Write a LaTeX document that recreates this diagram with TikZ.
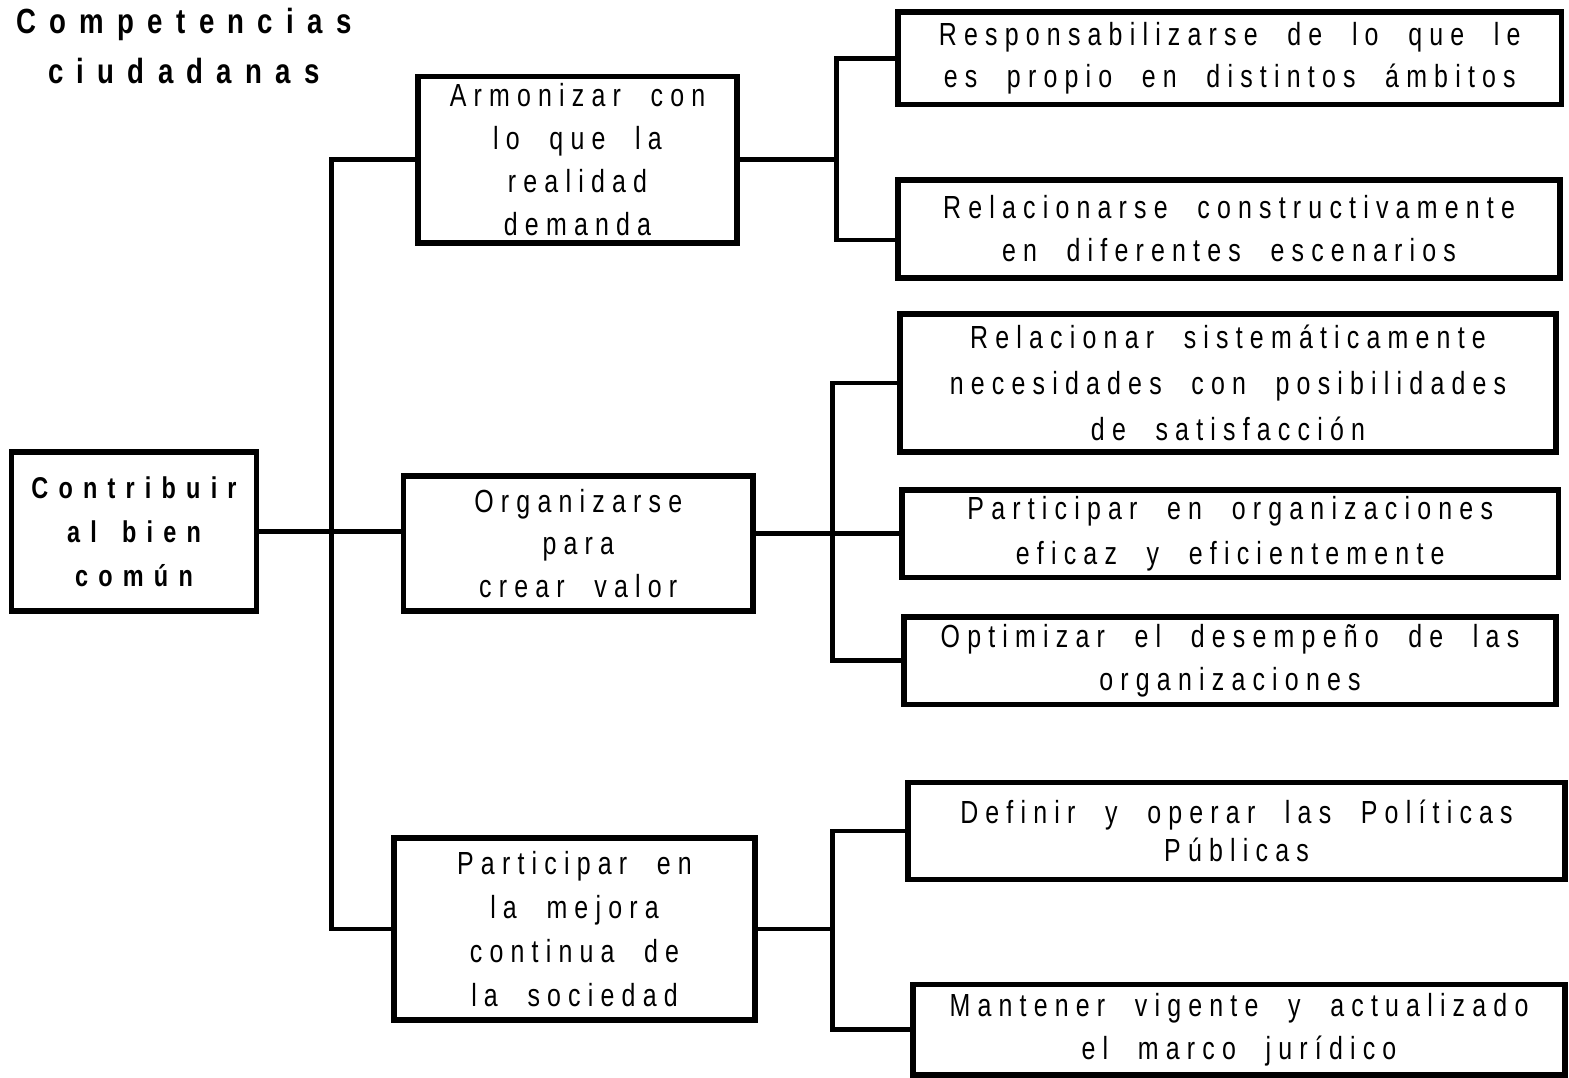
\documentclass[tikz,border=0pt]{standalone}
\usepackage{fontspec}
\setmainfont{Liberation Sans}[FakeStretch=0.78,LetterSpace=22.5,WordSpace=2.1]
\newfontfamily\rootfont{Liberation Sans}[FakeStretch=0.78,LetterSpace=34,WordSpace=1.5]
\newfontfamily\titlefont{Liberation Sans}[FakeStretch=0.79,LetterSpace=38]

\tikzset{
	box/.style={draw, line width=3.1pt, align=center, inner sep=0pt,
		font=\fontsize{18.2}{24.4}\selectfont},
	rootbox/.style={box, font=\rootfont\bfseries\fontsize{17.1}{25}\selectfont},
	link/.style={line width=2.8pt}
}

\begin{document}
\begin{tikzpicture}[x=0.02cm, y=-0.02cm]
	\useasboundingbox (0,0) rectangle (1569,1078);

	\node[align=center, font=\titlefont\bfseries\fontsize{19.9}{29}\selectfont] (title) at (184,46) {Competencias\\ciudadanas};

	\node[rootbox, minimum width=4.90cm, minimum height=3.18cm] (root) at (134,531.5) {Contribuir\\al bien\\común};

	\node[box, minimum width=6.38cm, minimum height=3.33cm] (m1) at (577.5,159.75) {Armonizar con\\lo que la\\realidad\\demanda};
	\node[box, minimum width=6.99cm, minimum height=2.70cm] (m2) at (578.25,543.5) {Organizarse\\para\\crear valor};
	\node[box, minimum width=7.22cm, minimum height=3.64cm, font=\fontsize{18.2}{25}\selectfont] (m3) at (574.5,929) {Participar en\\la mejora\\continua de\\la sociedad};

	\node[box, minimum width=13.27cm, minimum height=1.85cm] (r1) at (1229.75,58.25) {Responsabilizarse de lo que le\\es propio en distintos ámbitos};
	\node[box, minimum width=13.24cm, minimum height=1.96cm] (r2) at (1229,229) {Relacionarse constructivamente\\en diferentes escenarios};
	\node[box, minimum width=13.12cm, minimum height=2.76cm, font=\fontsize{18.2}{26}\selectfont] (r3) at (1228,383) {Relacionar sistemáticamente\\necesidades con posibilidades\\de satisfacción};
	\node[box, minimum width=13.13cm, minimum height=1.75cm, font=\fontsize{18.2}{25.5}\selectfont] (r4) at (1230.25,533.75) {Participar en organizaciones\\eficaz y eficientemente};
	\node[box, minimum width=13.04cm, minimum height=1.75cm] (r5) at (1230,660.75) {Optimizar el desempeño de las\\organizaciones};
	\node[box, minimum width=13.14cm, minimum height=1.94cm, font=\fontsize{18.2}{22}\selectfont] (r6) at (1236.5,831) {Definir y operar las Políticas\\Públicas};
	\node[box, minimum width=13.04cm, minimum height=1.81cm] (r7) at (1239,1029.75) {Mantener vigente y actualizado\\el marco jurídico};

	% trunk and branch points
	\coordinate (tk) at (331.5,0);
	\coordinate (b1) at (836.5,240);
	\coordinate (b2) at (832.5,0);
	\coordinate (b3) at (832.5,0);

	\draw[link] (root.east) -- (root.east -| m2.west);
	\draw[link] (m1.west) -| (tk |- m3.west) -- (m3.west);

	\draw[link] (m1.east) -- (m1.east -| b1);
	\draw[link] (r1.west) -| (b1) -- (b1 -| r2.west);

	\draw[link] (m2.east |- r4.west) -- (r4.west);
	\draw[link] (r3.west) -| (b2 |- r5.west) -- (r5.west);

	\draw[link] (m3.east) -- (m3.east -| b3);
	\draw[link] (r6.west) -| (b3 |- r7.west) -- (r7.west);
\end{tikzpicture}
\end{document}
